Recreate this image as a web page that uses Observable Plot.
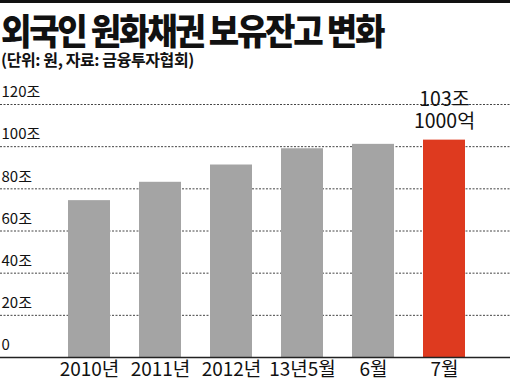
<!DOCTYPE html>
<html><head><meta charset="utf-8">
<script src="https://cdn.jsdelivr.net/npm/d3@7"></script>
<script src="https://cdn.jsdelivr.net/npm/@observablehq/plot@0.6"></script>
<style>
html,body{margin:0;padding:0;background:#fff;}
#wrap{width:510px;height:380px;position:relative;overflow:hidden;border-top:3px solid #111;box-sizing:border-box;}
#title{position:absolute;left:1px;top:9px;font-family:"Noto Sans CJK KR";font-weight:900;font-size:36px;letter-spacing:-2.5px;line-height:34px;color:#111;white-space:nowrap;transform:scaleX(0.92);transform-origin:left center;}
#sub{position:absolute;left:1px;top:48px;font-family:"Noto Sans CJK KR";font-weight:700;font-size:16px;letter-spacing:-0.4px;line-height:16px;color:#111;white-space:nowrap;}
#chart{position:absolute;left:0;top:67px;}
</style></head>
<body><div id="wrap"><div id="title">외국인 원화채권 보유잔고 변화</div><div id="sub">(단위: 원, 자료: 금융투자협회)</div><div id="chart"></div></div>
<script>
const categories = ["2010년","2011년","2012년","13년5월","6월","7월"];
const values = [74.4, 83.1, 91.3, 99.0, 101.1, 103.1];
const barColors = ["#a4a4a4","#a4a4a4","#a4a4a4","#a4a4a4","#a4a4a4","#de3a1f"];
const yTicks = [0, 20, 40, 60, 80, 100, 120];
const yTickLabels = ["0","20조","40조","60조","80조","100조","120조"];
const annotationLines = ["103조", "1000억"];

const data = categories.map((c,i)=>({cat:c, value:values[i], color:barColors[i]}));
const ticks = yTicks.map((t,i)=>({t, label:yTickLabels[i]}));
const last = data[data.length-1];
const narrow = '"Liberation Sans Narrow","Noto Sans CJK KR",sans-serif';

const chart = Plot.plot({
  width: 510,
  height: 313,
  marginLeft: 0, marginRight: 0, marginTop: 34, marginBottom: 26,
  x: {domain: categories, range: [38.8, 495], padding: 0.41, axis: null},
  y: {domain: [0, 120], axis: null},
  style: {overflow: "visible"},
  marks: [
    Plot.ruleY(yTicks.filter(t=>t>0), {stroke:"#444", strokeWidth:1, strokeDasharray:"2,1.5"}),
    Plot.barY(data, {x:"cat", y:"value", fill:"color"}),
    Plot.ruleY([0], {stroke:"#222", strokeWidth:1.6}),
    Plot.text(ticks, {y:"t", text:"label", frameAnchor:"left", textAnchor:"start", dx:1, dy:-12, fontSize:15, fill:"#111", fontFamily:narrow, style:{letterSpacing:"-0.6px"}}),
    Plot.text(data, {x:"cat", y:0, text:"cat", dy:12, fontSize:19, fill:"#111", fontFamily:narrow, style:{letterSpacing:"-0.8px"}}),
    Plot.text([last], {x:"cat", y:"value", text:()=>annotationLines[0], dy:-40, fontSize:19.5, fill:"#111", fontFamily:narrow, style:{letterSpacing:"-0.8px"}}),
    Plot.text([last], {x:"cat", y:"value", text:()=>annotationLines[1], dy:-18, fontSize:19.5, fill:"#111", fontFamily:narrow, style:{letterSpacing:"-0.8px"}})
  ]
});
document.getElementById("chart").appendChild(chart);
</script></body></html>
